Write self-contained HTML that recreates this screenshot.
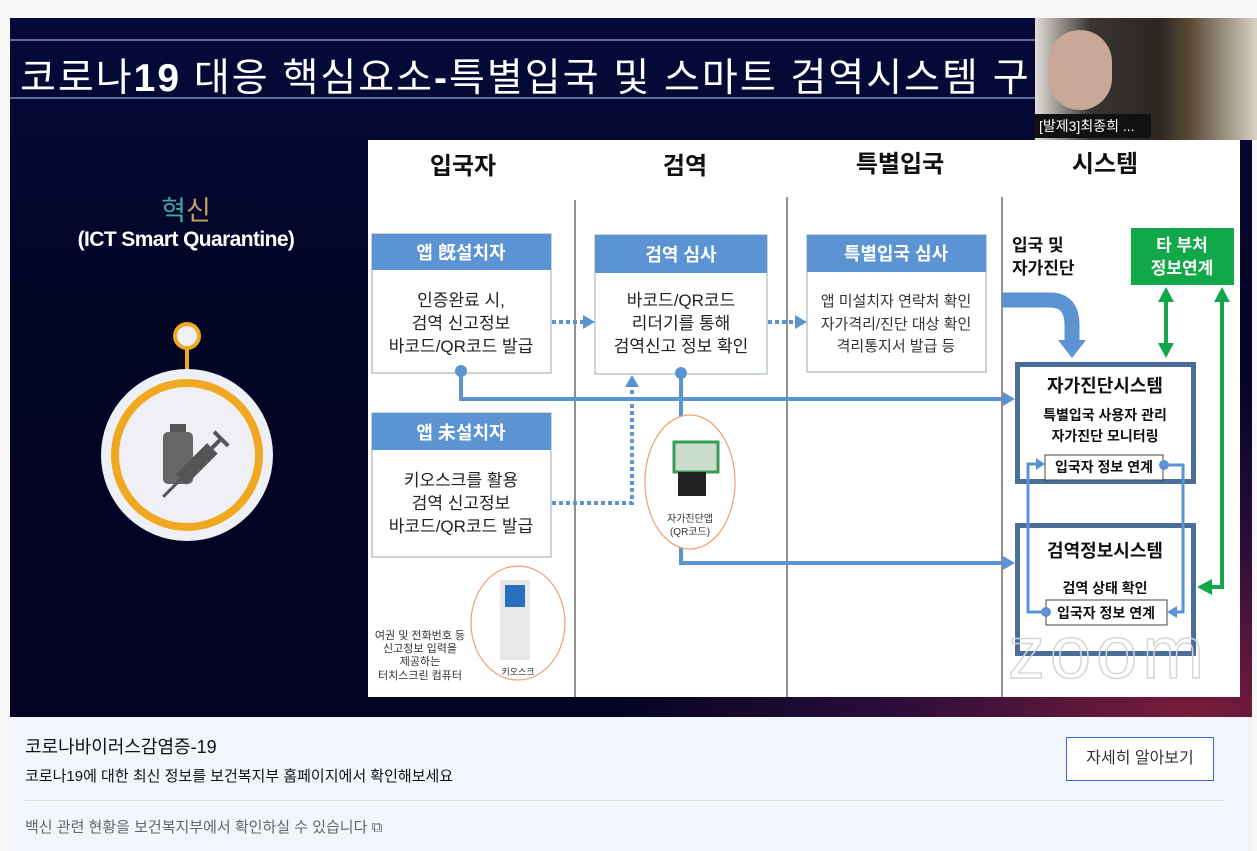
<!DOCTYPE html>
<html><head><meta charset="utf-8"><style>
body{margin:0;width:1257px;height:851px;background:#f7f7f7;position:relative;overflow:hidden;font-family:"Liberation Sans","Noto Sans CJK KR",sans-serif}
.slide{position:absolute;left:10px;top:18px;width:1242px;height:699px;background:radial-gradient(ellipse at 95% 100%,#7a1c3a 0%,#2a0d3a 18%,transparent 35%),linear-gradient(180deg,#050a3a 0%,#030526 40%,#030421 100%)}
.ab{position:absolute}
</style></head><body>
<div class="slide"></div>
<div class="ab" style="left:10px;top:39px;width:1242px;height:2px;background:#5f6a9a"></div>
<div class="ab" style="left:10px;top:97px;width:1242px;height:2px;background:#5f6a9a"></div>
<div class="ab" style="left:20px;top:47px;color:#fff;font-size:39px;white-space:nowrap;letter-spacing:2px">코로나<b>19</b> 대응 핵심요소<b>-</b>특별입국 및 스마트 검역시스템 구</div>
<!-- webcam -->
<div class="ab" style="left:1035px;top:18px;width:222px;height:122px;background:linear-gradient(90deg,#e0ddd6 0%,#3a3530 25%,#2a2622 55%,#5a4a35 70%,#d8d2c6 100%)"></div>
<div class="ab" style="left:1048px;top:30px;width:64px;height:80px;border-radius:32px;background:#c9a898"></div>
<div class="ab" style="left:1035px;top:114px;width:112px;height:24px;background:#111;color:#fff;font-size:14px;line-height:24px;padding-left:4px">[발제3]최종희 ...</div>
<!-- left -->
<div class="ab" style="left:0;top:189px;width:372px;text-align:center;font-size:27px;color:#3fa6a0">혁<span style="color:#c0a060">신</span></div>
<div class="ab" style="left:0;top:228px;width:372px;text-align:center;font-size:21px;color:#fff;font-weight:bold;letter-spacing:-0.6px">(ICT Smart Quarantine)</div>
<svg class="ab" style="left:0;top:0" width="1257" height="851">
<line x1="187" y1="348" x2="187" y2="372" stroke="#f0a820" stroke-width="4"/>
<circle cx="187" cy="336" r="12" fill="#eef0f5" stroke="#f0a820" stroke-width="4"/>
<circle cx="187" cy="455" r="86" fill="#eef0f6"/>
<circle cx="187" cy="455" r="72" fill="#eef0f6" stroke="#f0a820" stroke-width="8"/>
<rect x="170" y="424" width="16" height="8" fill="#555"/>
<rect x="163" y="432" width="30" height="52" rx="5" fill="#666"/>
<g transform="rotate(-45 195 465)"><rect x="175" y="458" width="44" height="15" fill="#555"/><line x1="150" y1="465" x2="175" y2="465" stroke="#555" stroke-width="3"/><line x1="219" y1="465" x2="232" y2="465" stroke="#555" stroke-width="4"/><line x1="232" y1="455" x2="232" y2="475" stroke="#555" stroke-width="4"/></g>
</svg>
<!-- white panel -->
<div class="ab" style="left:368px;top:140px;width:872px;height:557px;background:#fff"></div>
<svg class="ab" style="left:0;top:0" width="1257" height="851" font-family="Liberation Sans, Noto Sans CJK KR, sans-serif">
<g font-size="24" font-weight="bold" fill="#111" text-anchor="middle">
<text x="463" y="174">입국자</text><text x="685" y="174">검역</text><text x="900" y="172">특별입국</text><text x="1105" y="172">시스템</text></g>
<g stroke="#555" stroke-width="1.3"><line x1="575" y1="200" x2="575" y2="697"/><line x1="787" y1="197" x2="787" y2="697"/><line x1="1002" y1="197" x2="1002" y2="697"/></g>
<g stroke="#9aa" stroke-width="1" fill="#fff">
<rect x="372" y="234" width="179" height="139"/><rect x="595" y="235" width="172" height="139"/><rect x="807" y="235" width="179" height="137"/><rect x="372" y="413" width="179" height="144"/></g>
<g fill="#5b93d3"><rect x="372" y="234" width="179" height="36"/><rect x="595" y="235" width="172" height="38"/><rect x="807" y="235" width="179" height="37"/><rect x="372" y="413" width="179" height="37"/></g>
<g fill="#fff" font-size="18" font-weight="bold" text-anchor="middle">
<text x="461" y="259">앱 旣설치자</text><text x="681" y="261">검역 심사</text><text x="896" y="260">특별입국 심사</text><text x="461" y="439">앱 未설치자</text></g>
<g fill="#222" font-size="17" text-anchor="middle">
<text x="461" y="306">인증완료 시,</text><text x="461" y="329">검역 신고정보</text><text x="461" y="352">바코드/QR코드 발급</text>
<text x="681" y="306">바코드/QR코드</text><text x="681" y="329">리더기를 통해</text><text x="681" y="352">검역신고 정보 확인</text>
<text x="461" y="486">키오스크를 활용</text><text x="461" y="509">검역 신고정보</text><text x="461" y="532">바코드/QR코드 발급</text></g>
<g fill="#333" font-size="15" text-anchor="middle">
<text x="896" y="306">앱 미설치자 연락처 확인</text><text x="896" y="329">자가격리/진단 대상 확인</text><text x="896" y="351">격리통지서 발급 등</text></g>
<g stroke="#5b93d3" stroke-width="4" stroke-dasharray="4 3" fill="none">
<line x1="552" y1="322" x2="583" y2="322"/><line x1="768" y1="322" x2="797" y2="322"/>
<polyline points="552,503 632,503 632,386"/></g>
<g fill="#5b93d3"><polygon points="583,315 595,322 583,329"/><polygon points="795,315 807,322 795,329"/><polygon points="625,387 632,375 639,387"/></g>
<g stroke="#5b93d3" stroke-width="4" fill="none">
<polyline points="461,371 461,399 1005,399"/><polyline points="681,373 681,563 1005,563"/></g>
<g fill="#5b93d3"><circle cx="461" cy="371" r="6"/><circle cx="681" cy="373" r="6"/>
<polygon points="1003,392 1015,399 1003,406"/><polygon points="1003,556 1015,563 1003,570"/></g>
<ellipse cx="690" cy="482" rx="45" ry="67" fill="#fff" stroke="#f0a070" stroke-width="1.2"/>
<rect x="674" y="442" width="44" height="30" fill="#ccddcc" stroke="#3a9a5a" stroke-width="3"/>
<rect x="678" y="472" width="28" height="24" fill="#222"/>
<text x="690" y="522" font-size="10" text-anchor="middle" fill="#333">자가진단앱</text><text x="690" y="535" font-size="10" text-anchor="middle" fill="#333">(QR코드)</text>
<ellipse cx="518" cy="623" rx="47" ry="57" fill="#fff" stroke="#f0a070" stroke-width="1.2"/>
<rect x="500" y="580" width="30" height="80" fill="#e8e8e8"/><rect x="505" y="585" width="20" height="22" fill="#2a70c0"/>
<text x="518" y="675" font-size="9" text-anchor="middle" fill="#333">키오스크</text>
<g fill="#333" font-size="11" text-anchor="middle"><text x="420" y="639">여권 및 전화번호 등</text><text x="420" y="652">신고정보 입력을</text><text x="420" y="665">제공하는</text><text x="420" y="679">터치스크린 컴퓨터</text></g>
<g font-size="17" font-weight="bold" fill="#111"><text x="1012" y="251">입국 및</text><text x="1012" y="274">자가진단</text></g>
<path d="M1002 300 H1050 Q1072 300 1072 325 V342" stroke="#5b93d3" stroke-width="15" fill="none"/>
<polygon points="1058,340 1086,340 1072,358" fill="#5b93d3"/>
<rect x="1131" y="228" width="103" height="57" fill="#12a84a"/>
<g fill="#fff" font-size="17" font-weight="bold" text-anchor="middle"><text x="1182" y="251">타 부처</text><text x="1182" y="274">정보연계</text></g>
<g stroke="#12a84a" stroke-width="4" fill="none"><line x1="1166" y1="300" x2="1166" y2="345"/><polyline points="1222,300 1222,587 1210,587"/></g>
<g fill="#12a84a"><polygon points="1158,302 1166,287 1174,302"/><polygon points="1158,343 1166,358 1174,343"/><polygon points="1214,302 1222,287 1230,302"/><polygon points="1212,579 1197,587 1212,595"/></g>
<rect x="1017.5" y="364.5" width="176" height="117" fill="#fff" stroke="#4b6d99" stroke-width="5"/>
<rect x="1017.5" y="525.5" width="176" height="128" fill="#fff" stroke="#4b6d99" stroke-width="5"/>
<text x="1008" y="678" font-size="74" fill="none" stroke="#d4d6dc" stroke-width="1.5" font-family="Liberation Sans, sans-serif" textLength="196">zoom</text>
<g fill="#111" font-weight="bold" text-anchor="middle"><text x="1105" y="392" font-size="18">자가진단시스템</text><text x="1105" y="557" font-size="18">검역정보시스템</text>
<text x="1105" y="420" font-size="14">특별입국 사용자 관리</text><text x="1105" y="441" font-size="14">자가진단 모니터링</text><text x="1105" y="593" font-size="14">검역 상태 확인</text></g>
<rect x="1045" y="455" width="118" height="25" fill="#fff" stroke="#444"/><rect x="1046" y="600" width="121" height="25" fill="#fff" stroke="#444"/>
<g fill="#111" font-size="14" font-weight="bold" text-anchor="middle"><text x="1104" y="472">입국자 정보 연계</text><text x="1106" y="618">입국자 정보 연계</text></g>
<g stroke="#5b93d3" stroke-width="3" fill="none"><polyline points="1046,612 1028,612 1028,464 1038,464"/><polyline points="1164,465 1183,465 1183,612 1175,612"/></g>
<g fill="#5b93d3"><circle cx="1046" cy="612" r="5"/><circle cx="1164" cy="465" r="5"/><polygon points="1036,458 1045,464 1036,470"/><polygon points="1177,606 1167,612 1177,618"/></g>
</svg>
<div class="ab" style="left:10px;top:717px;width:1242px;height:134px;background:#f2f6fc"></div>
<div class="ab" style="left:25px;top:733px;font-size:18px;color:#111">코로나바이러스감염증-19</div>
<div class="ab" style="left:25px;top:765px;font-size:15px;color:#111">코로나19에 대한 최신 정보를 보건복지부 홈페이지에서 확인해보세요</div>
<div class="ab" style="left:1066px;top:737px;width:146px;height:42px;border:1px solid #3b6ed0;background:#fff;color:#333;font-size:16px;text-align:center;line-height:42px">자세히 알아보기</div>
<div class="ab" style="left:25px;top:800px;width:1200px;height:1px;background:#ddd"></div>
<div class="ab" style="left:25px;top:816px;font-size:15px;color:#666">백신 관련 현황을 보건복지부에서 확인하실 수 있습니다 ⧉</div>
</body></html>
